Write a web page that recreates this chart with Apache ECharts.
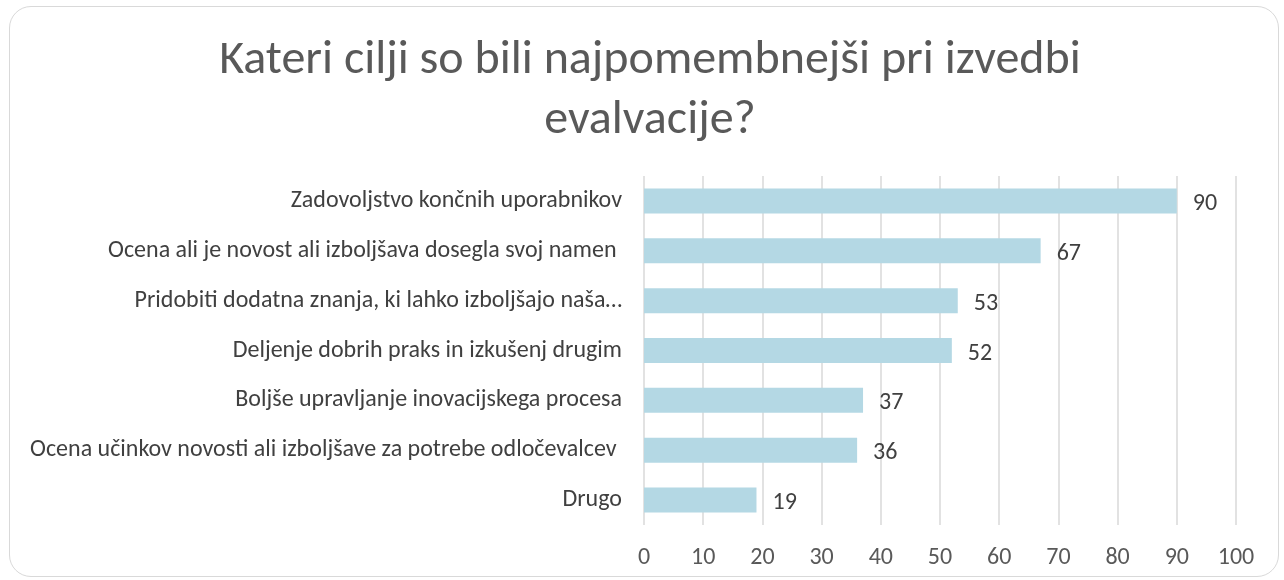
<!DOCTYPE html>
<html>
<head>
<meta charset="utf-8">
<script src="https://cdn.jsdelivr.net/npm/echarts@6/dist/echarts.min.js"></script>
<style>
  html, body { margin: 0; padding: 0; background: #fff; }
  #frame {
    position: absolute; left: 9px; top: 6px; width: 1270px; height: 571px;
    border: 1px solid #d9d9d9; border-radius: 22px; box-sizing: border-box;
  }
  #chart { position: absolute; left: 0; top: 0; width: 1284px; height: 580px; }
</style>
</head>
<body>
<div id="frame"></div>
<div id="chart"></div>
<script>
// categories from top to bottom
var categories = [
  'Zadovoljstvo končnih uporabnikov',
  'Ocena ali je novost ali izboljšava dosegla svoj namen ',
  'Pridobiti dodatna znanja, ki lahko izboljšajo naša…',
  'Deljenje dobrih praks in izkušenj drugim',
  'Boljše upravljanje inovacijskega procesa',
  'Ocena učinkov novosti ali izboljšave za potrebe odločevalcev ',
  'Drugo'
]
var values = [90, 67, 53, 52, 37, 36, 19]

var font = 'Carlito, "Open Sans"'

var chart = echarts.init(document.getElementById('chart'))
window.addEventListener('resize', chart.resize)

chart.setOption({
  animation: false,
  title: {
    text: 'Kateri cilji so bili najpomembnejši pri izvedbi\nevalvacije?',
    left: 645,
    top: 26,
    textAlign: 'center',
    textStyle: {
      fontFamily: font,
      fontSize: 48,
      fontWeight: 'normal',
      color: '#595959',
      lineHeight: 60
    }
  },
  grid: { left: 644, right: 48, top: 176, bottom: 55, containLabel: false },
  xAxis: {
    type: 'value',
    min: 0,
    max: 100,
    interval: 10,
    axisLine: { show: false },
    axisTick: { show: false },
    splitLine: { lineStyle: { color: '#d9d9d9', width: 1.5 } },
    axisLabel: { color: '#595959', fontFamily: font, fontSize: 24, margin: 21 }
  },
  yAxis: {
    type: 'category',
    inverse: true,
    data: categories,
    axisLine: { show: false },
    axisTick: { show: false },
    axisLabel: { color: '#404040', fontFamily: font, fontSize: 24, margin: 22 }
  },
  series: [{
    type: 'bar',
    data: values,
    barWidth: 25,
    itemStyle: { color: '#b4d8e4' },
    label: {
      show: true,
      position: 'right',
      distance: 16,
      color: '#404040',
      fontFamily: font,
      fontSize: 24,
      offset: [0, 3]
    }
  }]
})
</script>
</body>
</html>
